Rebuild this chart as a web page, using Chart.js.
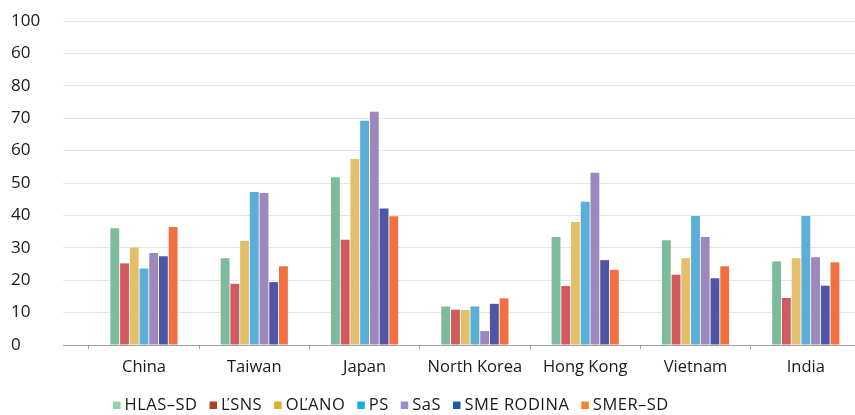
<!DOCTYPE html>
<html>
<head>
<meta charset="utf-8">
<script src="https://cdn.jsdelivr.net/npm/chart.js@4/dist/chart.umd.min.js"></script>
<style>
  html, body { margin: 0; padding: 0; background: #ffffff; }
  #wrap { width: 855px; height: 415px; position: relative; }
</style>
</head>
<body>
<div id="wrap"><canvas id="c"></canvas></div>
<script>
// Survey results by country, one series per party
const countries = ['China', 'Taiwan', 'Japan', 'North Korea', 'Hong Kong', 'Vietnam', 'India'];
const parties = ['HLAS–SD', 'ĽSNS', 'OĽANO', 'PS', 'SaS', 'SME RODINA', 'SMER–SD'];

const hlasSd    = [36.0, 26.8, 51.8, 11.9, 33.3, 32.3, 25.8];
const lsns      = [25.2, 18.9, 32.5, 10.9, 18.2, 21.7, 14.5];
const olano     = [30.1, 32.2, 57.4, 10.8, 38.0, 26.8, 26.8];
const ps        = [23.6, 47.2, 69.2, 11.9, 44.2, 39.8, 39.8];
const sas       = [28.4, 46.9, 72.0,  4.3, 53.2, 33.3, 27.1];
const smeRodina = [27.4, 19.4, 42.1, 12.7, 26.2, 20.6, 18.3];
const smerSd    = [36.4, 24.3, 39.7, 14.4, 23.2, 24.3, 25.5];

const yTickLabels = ['0', '10', '20', '30', '40', '50', '60', '70', '80', '60', '100'];

const seriesValues = [hlasSd, lsns, olano, ps, sas, smeRodina, smerSd];
const barColors = ['#7dbb9d', '#d05a5e', '#e3bf6c', '#5aaed8', '#9d88be', '#4f56a6', '#f17040'];
const legendColors = ['#8fd4a8', '#b33b2c', '#dcb125', '#15aee4', '#9b8cc7', '#1d5ba6', '#f2862c'];

const FONT = '"Open Sans", Lato, sans-serif';
const TEXT = '#1a1a1a';
Chart.defaults.font.family = FONT;
Chart.defaults.color = TEXT;

// Legend drawn as a single row of small squares with labels
const rowLegend = {
  id: 'rowLegend',
  afterDraw(chart) {
    const ctx = chart.ctx;
    ctx.save();
    ctx.font = '16.5px ' + FONT;
    if ('letterSpacing' in ctx) ctx.letterSpacing = '0.5px';
    ctx.textBaseline = 'middle';
    let x = 113;
    const y = 405;
    chart.data.datasets.forEach((ds, i) => {
      ctx.fillStyle = legendColors[i];
      ctx.fillRect(x, y - 3.5, 7.5, 7.5);
      ctx.fillStyle = TEXT;
      ctx.fillText(ds.label, x + 11.5, y + 0.5);
      x += 11.5 + ctx.measureText(ds.label).width + 12;
    });
    ctx.restore();
  }
};

const datasets = parties.map((name, k) => ({
  label: name,
  data: seriesValues[k].map((v, i) => ({ x: i, y: v })),
  backgroundColor: barColors[k],
  borderWidth: 0,
  categoryPercentage: 0.617,
  barPercentage: 0.91
}));

new Chart(document.getElementById('c'), {
  type: 'bar',
  data: { datasets },
  plugins: [rowLegend],
  options: {
    responsive: true,
    maintainAspectRatio: false,
    animation: false,
    layout: { padding: { left: 11, top: 21, right: 0, bottom: 36 } },
    plugins: {
      legend: { display: false },
      tooltip: { enabled: false }
    },
    scales: {
      x: {
        type: 'linear',
        offset: false,
        min: -0.734,
        max: 6.446,
        afterBuildTicks: s => { s.ticks = countries.map((_, i) => ({ value: i })); },
        afterFit: s => { s.height = 34; },
        ticks: {
          callback: v => countries[v],
          autoSkip: false,
          maxRotation: 0,
          padding: 8,
          font: { size: 16.5 },
          color: TEXT
        },
        grid: { offset: true, drawOnChartArea: false, tickLength: 4, color: '#a0a0a0' },
        border: { color: '#a0a0a0', width: 1 }
      },
      y: {
        min: 0,
        max: 100,
        afterBuildTicks: s => { s.ticks = yTickLabels.map((_, i) => ({ value: i * 10 })); },
        afterFit: s => { s.width = 52; },
        ticks: {
          callback: (v, i) => yTickLabels[i],
          crossAlign: 'far',
          font: { size: 17 },
          color: TEXT
        },
        grid: { color: '#e6e6e6', drawTicks: false },
        border: { display: false }
      }
    }
  }
});
</script>
</body>
</html>
